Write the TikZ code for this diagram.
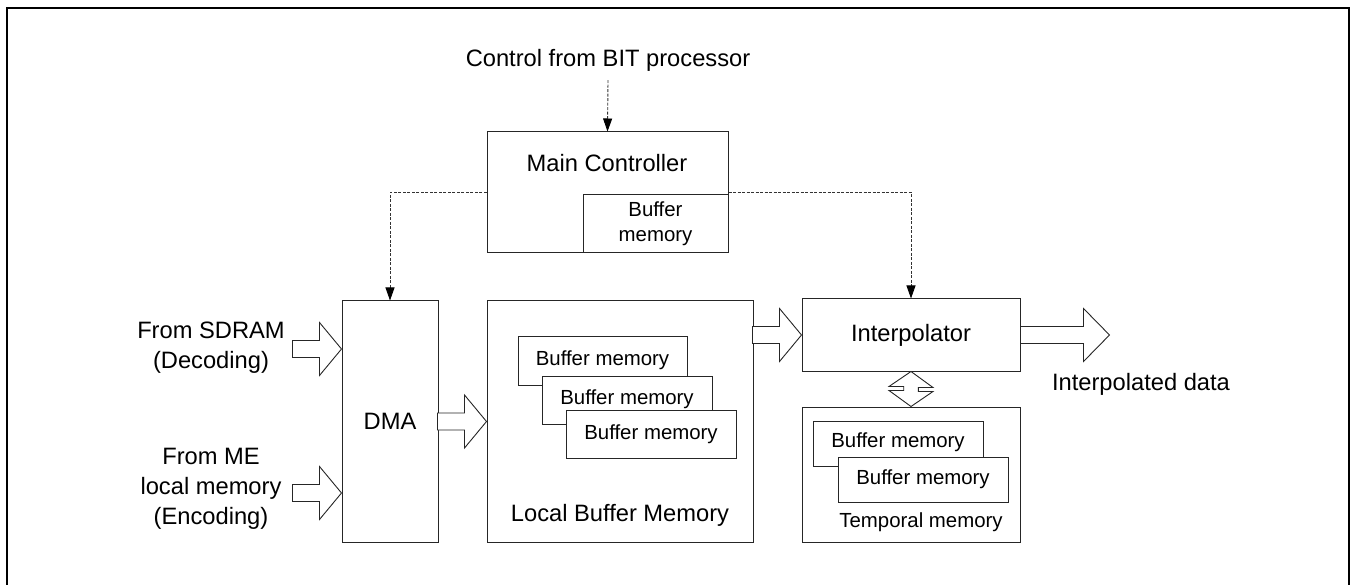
\documentclass[tikz,border=0pt]{standalone}
\usepackage{fontspec}
\setmainfont{Liberation Sans}
\usetikzlibrary{arrows.meta,calc}
\newcommand{\bigtxt}{\fontsize{23.7}{30}\selectfont}
\newcommand{\smtxt}{\fontsize{20.4}{25}\selectfont}
\newcommand{\harrow}[3]{\draw[blk] (#1) -- ++(-#3,-26.5) -- ++(0,18) -- ++(-#2,0) -- ++(0,17) -- ++(#2,0) -- ++(0,18) -- cycle;}
\tikzset{
  box/.style={draw=black!85, line width=1pt, fill=white, inner sep=0pt, rectangle},
  lbl/.style={inner sep=0pt, align=center, font=\bigtxt},
  slbl/.style={inner sep=0pt, align=center, font=\smtxt},
  blk/.style={draw=black!85, line width=0.9pt, fill=white, line join=miter},
  ctl/.style={draw=black!80, line width=0.9pt, dash pattern=on 3pt off 1.5pt, -{Triangle[length=13pt,width=9pt,fill=black,color=black]}},
}
\begin{document}
\begin{tikzpicture}[x=1pt,y=-1pt]
\useasboundingbox (0,0) rectangle (1355,585);
\draw[line width=2pt] (7,600) -- (7,8) -- (1349,8) -- (1349,600);

% text labels
\node[lbl] (ctrl) at (608,60) {Control from BIT processor};

% Main controller
\node[box, minimum width=241pt, minimum height=121pt] (mc) at (607.5,192.5) {};
\node[lbl] (mct) at (607,163) {Main Controller};
\node[box, slbl, minimum width=145pt, minimum height=58pt] (mcb) at (655.5,224) {Buffer\\memory};

% DMA
\node[box, lbl, minimum width=96pt, minimum height=241pt] (dma) at (390,421.5) {DMA};

% Local buffer memory
\node[box, minimum width=266pt, minimum height=241pt] (lbm) at (620,421.5) {};
\node[lbl] (lbmt) at (620,515) {Local Buffer Memory};
\node[box, minimum width=169pt, minimum height=48pt] (b1) at (602.5,361) {};
\node[slbl] (b1t) at (602.5,360) {Buffer memory};
\node[box, minimum width=170pt, minimum height=48pt] (b2) at (627,400) {};
\node[slbl] (b2t) at (627,399) {Buffer memory};
\node[box, slbl, minimum width=170pt, minimum height=48pt] (b3) at (651,434) {Buffer memory};

% Interpolator
\node[box, lbl, minimum width=218pt, minimum height=72pt] (interp) at (911,335) {Interpolator};

% Temporal memory
\node[box, minimum width=218pt, minimum height=135pt] (temp) at (911,474.5) {};
\node[slbl] (tempt) at (921,522) {Temporal memory};
\node[box, minimum width=170pt, minimum height=45pt] (ta) at (898,443.5) {};
\node[slbl] (tat) at (898,442) {Buffer memory};
\node[box, slbl, minimum width=170pt, minimum height=45pt] (tb) at (923,479.5) {Buffer memory};

% input labels
\node[lbl] (sd) at (211,348) {From SDRAM\\(Decoding)};
\node[lbl] (me) at (211,488.5) {From ME\\local memory\\(Encoding)};
\node[lbl] (outt) at (1141,384) {Interpolated data};

% dashed control arrows
\draw[ctl] ([yshift=-9pt]ctrl.south) -- (mc.north);
\draw[ctl] (mc.west) -| (dma.north);
\draw[ctl] (mc.east) -| (interp.north);

% block arrows
\coordinate (t1) at ($(dma.west)+(0,-72.5)$);
\coordinate (t2) at ($(dma.west)+(0,71.5)$);
\coordinate (t3) at ($(interp.east)+(89,0)$);
\harrow{t1}{27}{22}
\harrow{t2}{27}{22}
\harrow{lbm.west}{27}{22}
\harrow{interp.west}{27}{22}
\harrow{t3}{63}{26}

% double arrow
\draw[blk] (interp.south) -- ++(22,16) -- ++(-14.7,0) -- ++(0,4) -- ++(14.7,0) -- (temp.north)
  -- ++(-22,-16) -- ++(14.7,0) -- ++(0,-4) -- ++(-14.7,0) -- cycle;
\end{tikzpicture}
\end{document}
